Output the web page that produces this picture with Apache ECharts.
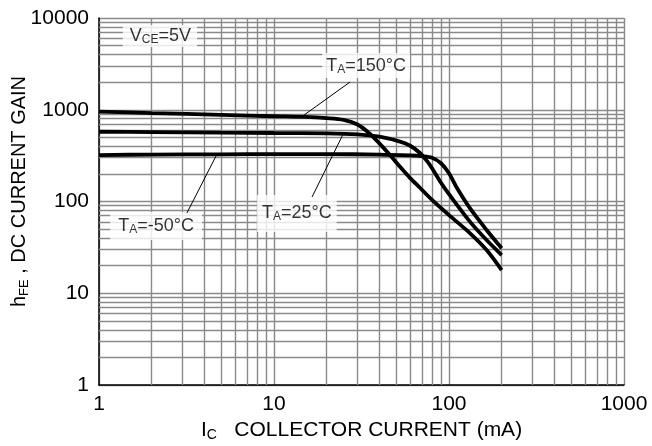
<!DOCTYPE html>
<html>
<head>
<meta charset="utf-8">
<script src="https://cdn.jsdelivr.net/npm/echarts@6/dist/echarts.min.js"></script>
<style>
html,body{margin:0;padding:0;background:#fff;}
#chart{width:652px;height:446px;}
</style>
</head>
<body>
<div id="chart"></div>
<script>
// ---- data ----
const xTickLabels = [1, 10, 100, 1000];
const yTickLabels = [1, 10, 100, 1000, 10000];

const ic150  = [1, 2, 5, 10, 15, 20, 25, 30, 35, 40, 46, 52.5, 60, 68, 80, 100, 132, 164, 200];
const hfe150 = [955, 920, 880, 850, 835, 810, 775, 690, 555, 430, 321, 239, 180, 142, 104, 71, 45, 29.6, 17.9];

const ic25   = [1, 2, 5, 10, 20, 30, 40, 52.5, 60, 68, 75, 80, 90, 100, 132, 164, 200];
const hfe25  = [576, 570, 562, 558, 554, 540, 508, 449, 405, 340, 275, 230, 160, 120, 60, 38, 26.1];

const icM50  = [1, 2, 5, 10, 20, 40, 60, 70, 80, 90, 100, 110, 132, 164, 200];
const hfeM50 = [321, 325, 327, 328, 328, 325, 318, 312, 300, 261, 203, 145, 84, 48.9, 30.9];

// annotation texts
const labelVce  = '{m|V}{s|CE}{m|=5V}';
const label150  = '{m|T}{s|A}{m|=150°C}';
const label25   = '{m|T}{s|A}{m|=25°C}';
const labelM50  = '{m|T}{s|A}{m|=-50°C}';
const xName = '{m|I}{s|C}{m|   COLLECTOR CURRENT (mA)}';
const yName = '{m|h}{s|FE}{m| , DC CURRENT GAIN}';

// ---- helpers ----
function pairs(xs, ys) { return xs.map((x, i) => [x, ys[i]]); }
function minorValues(first, last) {
  const out = [];
  for (let d = first; d < last; d *= 10) {
    for (let k = 2; k <= 9; k++) out.push(d * k);
  }
  return out;
}

const FONT = 'Liberation Sans, Arial, Helvetica, sans-serif';
const GRID_COLOR = '#8a8a8a';
const GRID_W = 1.4;

const richSmall = {
  m: { fontSize: 18, lineHeight: 20, fontFamily: FONT, color: '#000' },
  s: { fontSize: 12, lineHeight: 6, verticalAlign: 'bottom', fontFamily: FONT, color: '#000' }
};

function boxLabel(text, padding) {
  return {
    show: true,
    position: 'inside',
    formatter: text,
    backgroundColor: '#fff',
    padding: padding,
    rich: richSmall
  };
}

const gridLines = [];
minorValues(xTickLabels[0], xTickLabels[xTickLabels.length - 1]).forEach(v => gridLines.push({ xAxis: v }));
minorValues(yTickLabels[0], yTickLabels[yTickLabels.length - 1]).forEach(v => gridLines.push({ yAxis: v }));

const curveStyle = { color: '#000', width: 3.8 };

const chart = echarts.init(document.getElementById('chart'), null, { renderer: 'canvas' });
chart.setOption({
  animation: false,
  backgroundColor: '#fff',
  grid: { left: 99, right: 28, top: 18, bottom: 61, containLabel: false, outerBoundsMode: 'none' },
  xAxis: {
    type: 'log', logBase: 10,
    min: xTickLabels[0], max: xTickLabels[xTickLabels.length - 1],
    axisLine: { show: true, lineStyle: { color: '#000', width: 1.5 } },
    axisTick: { show: false },
    axisLabel: { fontSize: 21, color: '#000', fontFamily: FONT, margin: 9,
                 formatter: v => String(v), showMinLabel: true, showMaxLabel: true },
    splitLine: { show: true, lineStyle: { color: GRID_COLOR, width: GRID_W } },
    name: xName,
    nameLocation: 'middle',
    nameGap: 33,
    nameTextStyle: {
      rich: {
        m: { fontSize: 21, lineHeight: 24, fontFamily: FONT, color: '#000' },
        s: { fontSize: 14, lineHeight: 8, verticalAlign: 'bottom', fontFamily: FONT, color: '#000' }
      }
    }
  },
  yAxis: {
    type: 'log', logBase: 10,
    min: yTickLabels[0], max: yTickLabels[yTickLabels.length - 1],
    axisLine: { show: true, lineStyle: { color: '#000', width: 1.5 } },
    axisTick: { show: false },
    axisLabel: { fontSize: 21, color: '#000', fontFamily: FONT, margin: 10,
                 formatter: v => String(v), showMinLabel: true, showMaxLabel: true },
    splitLine: { show: true, lineStyle: { color: GRID_COLOR, width: GRID_W } },
    name: yName,
    nameLocation: 'middle',
    nameGap: 68,
    nameMoveOverlap: false,
    nameTextStyle: {
      padding: [0, 0, 0, 20],
      rich: {
        m: { fontSize: 20, lineHeight: 24, fontFamily: FONT, color: '#000' },
        s: { fontSize: 13, lineHeight: 8, verticalAlign: 'bottom', fontFamily: FONT, color: '#000' }
      }
    }
  },
  series: [
    {
      name: 'grid', type: 'line', z: 1, silent: true,
      data: [[xTickLabels[0], yTickLabels[0]]],
      symbol: 'none', lineStyle: { opacity: 0 },
      markLine: {
        z: 1,
        silent: true, symbol: ['none', 'none'], animation: false,
        label: { show: false },
        lineStyle: { color: GRID_COLOR, width: GRID_W, type: 'solid' },
        data: gridLines
      }
    },
    {
      name: 'labels', type: 'scatter', z: 3, silent: true,
      symbolSize: 0,
      data: [
        { value: [2.23, 6368], label: boxLabel(labelVce, [1, 6, 1, 7]) },
        { value: [33.6, 3036], label: boxLabel(label150, [3, 4, 2, 4]) },
        { value: [13.5, 74],   label: boxLabel(label25, [8, 5, 9, 5]) },
        { value: [2.12, 54.1], label: boxLabel(labelM50, [4, 8, 4, 8]) }
      ]
    },
    { name: 'leader150', type: 'line', z: 4, symbol: 'none', silent: true,
      data: [[27.2, 2006], [14.6, 855]], lineStyle: { color: '#000', width: 1 } },
    { name: 'leader25', type: 'line', z: 4, symbol: 'none', silent: true,
      data: [[16.5, 112], [24.8, 540]], lineStyle: { color: '#000', width: 1 } },
    { name: 'leaderM50', type: 'line', z: 4, symbol: 'none', silent: true,
      data: [[3.18, 75], [4.71, 325]], lineStyle: { color: '#000', width: 1 } },
    { name: 'TA=150°C', type: 'line', z: 5, symbol: 'none', smooth: 0.3,
      data: pairs(ic150, hfe150), lineStyle: curveStyle },
    { name: 'TA=25°C', type: 'line', z: 5, symbol: 'none', smooth: 0.3,
      data: pairs(ic25, hfe25), lineStyle: curveStyle },
    { name: 'TA=-50°C', type: 'line', z: 5, symbol: 'none', smooth: 0.3,
      data: pairs(icM50, hfeM50), lineStyle: curveStyle }
  ]
});
</script>
</body>
</html>
